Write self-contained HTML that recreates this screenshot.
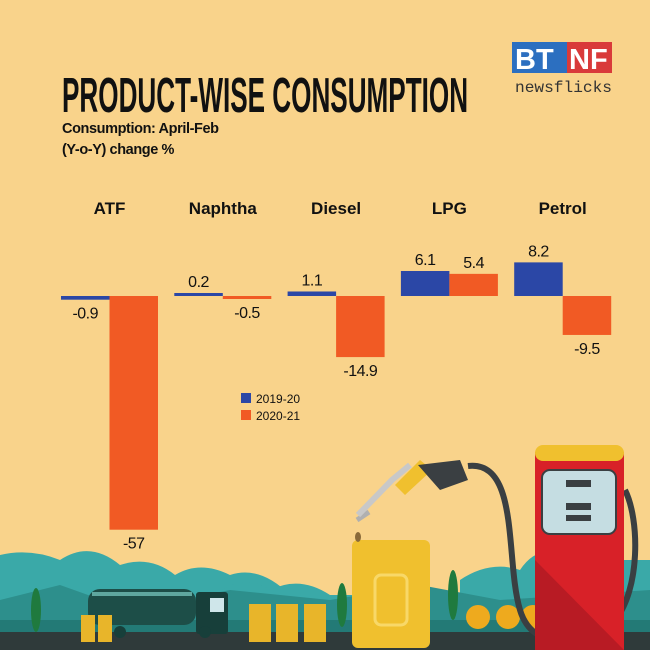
<!DOCTYPE html>
<html><head><meta charset="utf-8"><style>
html,body{margin:0;padding:0;background:#f9d38b;}
#wrap{position:relative;width:650px;height:650px;overflow:hidden;background:#f9d38b;font-family:"Liberation Sans",sans-serif;}
</style></head><body>
<div id="wrap">
<svg id="chart" width="650" height="650" viewBox="0 0 650 650" style="position:absolute;left:0;top:0">
  <!-- scenery -->
  <g>
    <path d="M0 555 Q30 548 60 560 Q90 540 120 565 Q150 555 175 575 Q200 560 230 575 Q260 565 290 595 L650 595 L650 650 L0 650 Z" fill="#3aa9a8"/>
    <path d="M210 600 Q240 570 270 590 Q300 575 330 595 L330 650 L210 650Z" fill="#3aa9a8"/>
    <path d="M460 580 Q490 560 520 570 Q540 540 570 560 L650 560 L650 650 L460 650Z" fill="#3aa9a8"/>
    <path d="M0 600 L60 585 L130 610 L230 590 L330 600 L420 585 L500 600 L650 590 L650 650 L0 650Z" fill="#2d8f8c"/>
    <path d="M0 620 L650 620 L650 650 L0 650Z" fill="#237a76"/>
    <rect x="0" y="632" width="650" height="18" fill="#2f3a3a"/>
    <ellipse cx="36" cy="610" rx="5" ry="22" fill="#1f7a3e"/>
    <ellipse cx="342" cy="605" rx="5" ry="22" fill="#1f7a3e"/>
    <ellipse cx="453" cy="595" rx="5" ry="25" fill="#1f7a3e"/>
    <rect x="88" y="589" width="108" height="36" rx="12" fill="#1d4e48"/>
    <rect x="92" y="592" width="100" height="4" fill="#5fa79f"/>
    <rect x="196" y="592" width="32" height="42" rx="3" fill="#173f3a"/>
    <rect x="210" y="598" width="14" height="14" fill="#cfe6ea"/>
    <circle cx="120" cy="632" r="6" fill="#173f3a"/><circle cx="205" cy="632" r="6" fill="#173f3a"/>
    <g fill="#e8b52a"><rect x="81" y="615" width="14" height="27"/><rect x="98" y="615" width="14" height="27"/>
    <rect x="249" y="604" width="22" height="38"/><rect x="276" y="604" width="22" height="38"/><rect x="304" y="604" width="22" height="38"/></g>
    <g fill="#eeaa1e"><circle cx="478" cy="617" r="12"/><circle cx="508" cy="617" r="12"/><circle cx="533" cy="617" r="12"/></g>
    <rect x="352" y="540" width="78" height="108" rx="6" fill="#f0c02e"/>
    <rect x="375" y="575" width="32" height="50" rx="6" fill="none" stroke="#f8d868" stroke-width="3"/>
    <path d="M357 520 L369 512" stroke="#b0b0b0" stroke-width="5"/>
    <ellipse cx="358" cy="537" rx="3" ry="5" fill="#8a6a3a"/>
    <path d="M358 515 L392 480 L410 465" stroke="#c8c8c8" stroke-width="6" fill="none"/>
    <path d="M395 485 L420 460 L432 470 L405 495Z" fill="#f0c02e"/>
    <path d="M418 465 L460 460 L468 480 L440 490 Z" fill="#3a3f42"/>
    <path d="M468 466 C520 460 505 560 520 610 C535 660 600 640 615 620 C640 590 640 520 625 490" stroke="#3a3f42" stroke-width="6" fill="none"/>
    <rect x="535" y="452" width="89" height="200" fill="#d82128"/>
    <path d="M535 560 L624 650 L535 650Z" fill="#b81b24"/>
    <rect x="535" y="445" width="89" height="16" rx="8" fill="#f0c02e"/>
    <rect x="542" y="470" width="74" height="64" rx="8" fill="#c5dde2" stroke="#3a3f42" stroke-width="2"/>
    <rect x="566" y="480" width="25" height="7" fill="#3a3f42"/><rect x="566" y="503" width="25" height="7" fill="#3a3f42"/><rect x="566" y="515" width="25" height="6" fill="#3a3f42"/>
  </g>
  <g id="bars"></g>
  <g id="labels"></g>
  <g id="cats"></g>
  <g>
    <rect x="241" y="393" width="10" height="10" fill="#2b47a6"/>
    <text x="256" y="403" font-size="12" fill="#111">2019-20</text>
    <rect x="241" y="410" width="10" height="10" fill="#f15a24"/>
    <text x="256" y="420" font-size="12" fill="#111">2020-21</text>
  </g>
  <text x="62" y="112" font-size="49" font-weight="bold" fill="#111" transform="translate(62 0) scale(0.72 1) translate(-62 0)" textLength="564" lengthAdjust="spacingAndGlyphs">PRODUCT-WISE CONSUMPTION</text>
  <text x="62" y="133" font-size="14.5" font-weight="bold" fill="#111" letter-spacing="-0.4">Consumption: April-Feb</text>
  <text x="62" y="154" font-size="14.5" fill="#111" font-weight="bold" letter-spacing="-0.4">(Y-o-Y) change %</text>
  <g>
    <rect x="512" y="42" width="55" height="31" fill="#2c6fc0"/>
    <rect x="567" y="42" width="45" height="31" fill="#d93a3a"/>
    <text x="515" y="69" font-size="29" font-weight="bold" fill="#fff">BT</text>
    <text x="569" y="69" font-size="29" font-weight="bold" fill="#fff">NF</text>
    <text x="515" y="92" font-size="16" fill="#333" textLength="97" lengthAdjust="spacingAndGlyphs" font-family="Liberation Mono, monospace">newsflicks</text>
  </g>
</svg>
</div>
<script>
const categories = ["ATF","Naphtha","Diesel","LPG","Petrol"];
const series2019 = [-0.9, 0.2, 1.1, 6.1, 8.2];
const series2020 = [-57, -0.5, -14.9, 5.4, -9.5];
const labels2019 = ["-0.9","0.2","1.1","6.1","8.2"];
const labels2020 = ["-57","-0.5","-14.9","5.4","-9.5"];

const NS = "http://www.w3.org/2000/svg";
const baseY = 296, pxPerUnit = 4.1, groupStart = 61, groupStep = 113.3, barW = 48.5;
function yOf(v){ return baseY - v*pxPerUnit; }
function xOf(i, s){ return groupStart + i*groupStep + s*barW; }
const barsG = document.getElementById('bars');
const labG = document.getElementById('labels');
const catG = document.getElementById('cats');
const colors = ["#2b47a6","#f15a24"];
const sets = [series2019, series2020];
const labs = [labels2019, labels2020];
categories.forEach((c, i) => {
  const t = document.createElementNS(NS, 'text');
  t.setAttribute('x', xOf(i, 1));
  t.setAttribute('y', 214);
  t.setAttribute('text-anchor', 'middle');
  t.setAttribute('font-size', '17');
  t.setAttribute('font-weight', 'bold');
  t.setAttribute('fill', '#111');
  t.textContent = c;
  
  
  catG.appendChild(t);
  for (let s = 0; s < 2; s++) {
    const v = sets[s][i];
    const h = Math.max(Math.abs(v)*pxPerUnit, 3);
    const r = document.createElementNS(NS, 'rect');
    r.setAttribute('x', xOf(i, s));
    r.setAttribute('y', v >= 0 ? baseY - h : baseY);
    r.setAttribute('width', barW);
    r.setAttribute('height', h);
    r.setAttribute('fill', colors[s]);
    
    
    barsG.appendChild(r);
    const l = document.createElementNS(NS, 'text');
    l.setAttribute('x', xOf(i, s) + barW/2);
    l.setAttribute('y', v >= 0 ? baseY - h - 6 : baseY + h + 19);
    l.setAttribute('text-anchor', 'middle');
    l.setAttribute('font-size', '16');
    l.setAttribute('fill', '#111');
    l.setAttribute('letter-spacing', '-0.5');
    l.textContent = labs[s][i];
    
    
    labG.appendChild(l);
  }
});
</script>
</body></html>
